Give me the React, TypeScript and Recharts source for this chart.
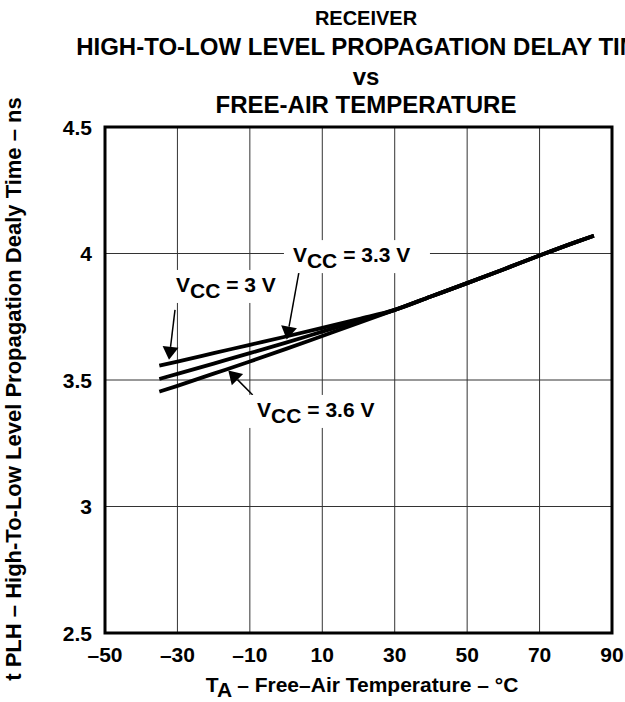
import { LineChart, Line, XAxis, YAxis, CartesianGrid, ReferenceArea, ReferenceLine, ReferenceDot } from "recharts";

const temps = [-35, -30, -20, -10, 0, 10, 20, 30, 40, 50, 60, 70, 80, 85];
const vcc3 = [3.557, 3.573, 3.606, 3.639, 3.672, 3.706, 3.741, 3.777, 3.83, 3.883, 3.937, 3.992, 4.045, 4.07];
const vcc33 = [3.504, 3.524, 3.565, 3.606, 3.648, 3.691, 3.734, 3.777, 3.83, 3.883, 3.937, 3.992, 4.045, 4.07];
const vcc36 = [3.454, 3.477, 3.525, 3.573, 3.623, 3.674, 3.725, 3.777, 3.83, 3.883, 3.937, 3.992, 4.045, 4.07];

const xTicks = [-50, -30, -10, 10, 30, 50, 70, 90];
const yTicks = [2.5, 3, 3.5, 4, 4.5];

const rows = temps.map((t, i) => ({ t, v3: vcc3[i], v33: vcc33[i], v36: vcc36[i] }));

const FONT = "'Liberation Sans', Arial, Helvetica, sans-serif";

const XTick = (p: any) => {
  const v = p.payload.value;
  return (
    <text x={p.x} y={p.y} dy={15} textAnchor="middle" fontSize={21} fontWeight="bold" fontFamily={FONT} fill="#000">
      {v < 0 ? `\u2013${-v}` : `${v}`}
    </text>
  );
};

const YTick = (p: any) => (
  <text x={p.x} y={p.y} dy={7.5} textAnchor="end" fontSize={21} fontWeight="bold" fontFamily={FONT} fill="#000">
    {p.payload.value}
  </text>
);

// arrow: thin shaft with a filled head at the second point
const Arrow = (p: any) => {
  const { x1, y1, x2, y2 } = p;
  const dx = x2 - x1;
  const dy = y2 - y1;
  const len = Math.hypot(dx, dy) || 1;
  const ux = dx / len;
  const uy = dy / len;
  const hl = 13;
  const hw = 8;
  const bx = x2 - ux * hl;
  const by = y2 - uy * hl;
  const pts = `${x2},${y2} ${bx - uy * hw},${by + ux * hw} ${bx + uy * hw},${by - ux * hw}`;
  return (
    <g>
      <line x1={x1} y1={y1} x2={bx} y2={by} stroke="#000" strokeWidth={1.5} />
      <polygon points={pts} fill="#000" />
    </g>
  );
};

const vccLabel = (value: string, boxW: number) => (p: any) => (
  <g>
    <rect x={p.cx - 9} y={p.cy - 22} width={boxW} height={33} fill="#fff" />
    <text x={p.cx} y={p.cy} fontSize={21} fontWeight="bold" fontFamily={FONT} fill="#000">
      V
      <tspan dy={6}>CC</tspan>
      <tspan dy={-6}>{` = ${value} V`}</tspan>
    </text>
  </g>
);

export default function App() {
  return (
    <div style={{ position: "absolute", left: 0, top: 0, width: 625, height: 702, background: "#fff" }}>
      <LineChart width={625} height={702} data={rows} margin={{ top: 127, right: 13, bottom: 39, left: 5 }}>
        <CartesianGrid stroke="#333" strokeWidth={1} horizontalValues={yTicks} verticalValues={xTicks} />
        <XAxis
          dataKey="t"
          type="number"
          domain={[-50, 90]}
          ticks={xTicks}
          height={30}
          axisLine={false}
          tickLine={false}
          tickSize={0}
          tickMargin={14}
          interval={0}
          tick={XTick}
        />
        <YAxis
          type="number"
          domain={[2.5, 4.5]}
          ticks={yTicks}
          width={100}
          axisLine={false}
          tickLine={false}
          tickSize={0}
          tickMargin={13}
          interval={0}
          tick={YTick}
        />
        <ReferenceArea x1={-50} x2={90} y1={2.5} y2={4.5} fill="none" stroke="#000" strokeWidth={3} />
        <ReferenceDot x={-30.4} y={3.848} r={0} shape={vccLabel("3", 118)} />
        <ReferenceDot x={1.9} y={3.966} r={0} shape={vccLabel("3.3", 146)} />
        <ReferenceDot x={-8.0} y={3.354} r={0} shape={vccLabel("3.6", 134)} />
        <Line dataKey="v3" type="monotone" stroke="#000" strokeWidth={3.8} dot={false} isAnimationActive={false} />
        <Line dataKey="v33" type="monotone" stroke="#000" strokeWidth={3.8} dot={false} isAnimationActive={false} />
        <Line dataKey="v36" type="monotone" stroke="#000" strokeWidth={3.8} dot={false} isAnimationActive={false} />
        <ReferenceLine segment={[{ x: -30.67, y: 3.777 }, { x: -32.33, y: 3.58 }]} shape={Arrow} />
        <ReferenceLine segment={[{ x: 3.58, y: 3.928 }, { x: 0.18, y: 3.66 }]} shape={Arrow} />
        <ReferenceLine segment={[{ x: -9.21, y: 3.441 }, { x: -15.95, y: 3.538 }]} shape={Arrow} />
      </LineChart>
      <svg width={625} height={702} style={{ position: "absolute", left: 0, top: 0, pointerEvents: "none" }}>
        <g fontFamily={FONT} fontWeight="bold" fill="#000" textAnchor="middle">
          <text x={366} y={25} fontSize={20}>RECEIVER</text>
          <text x={366} y={55} fontSize={24}>HIGH-TO-LOW LEVEL PROPAGATION DELAY TIME</text>
          <text x={366} y={85} fontSize={24}>vs</text>
          <text x={366} y={113} fontSize={24}>FREE-AIR TEMPERATURE</text>
          <text transform="translate(21,389) rotate(-90)" fontSize={22}>
            t PLH – High-To-Low Level Propagation Dealy Time – ns
          </text>
          <text x={362} y={692} fontSize={21}>
            T<tspan dy={5}>A</tspan>
            <tspan dy={-5}>{" – Free–Air Temperature – °C"}</tspan>
          </text>
        </g>
      </svg>
    </div>
  );
}
